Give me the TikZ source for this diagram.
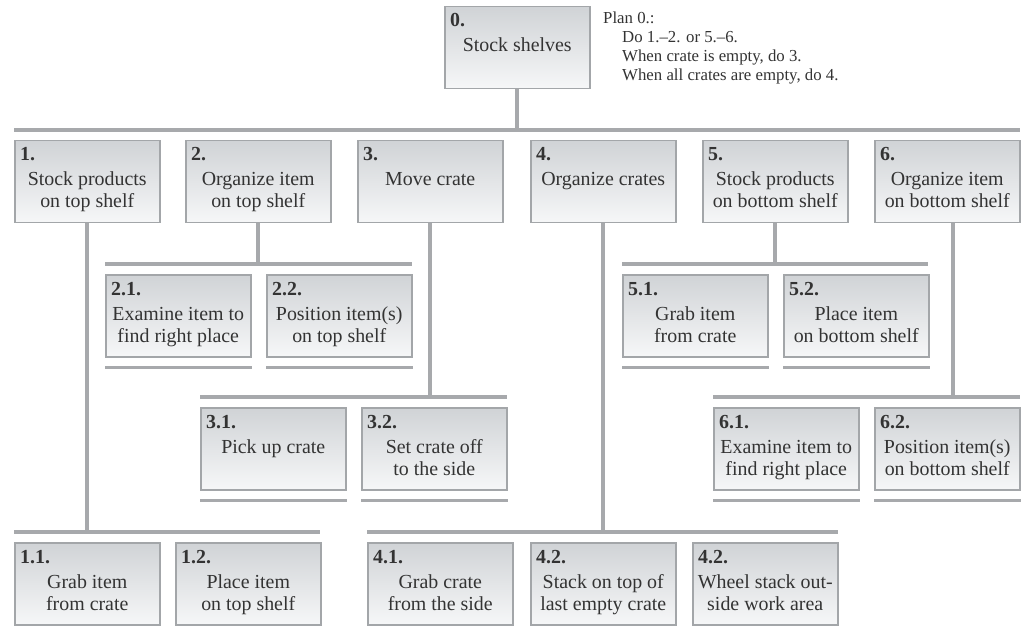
\documentclass[tikz,border=0pt]{standalone}
\usepackage{fontspec}
\setmainfont{Liberation Serif}
\definecolor{linegray}{HTML}{A7A9AC}
\definecolor{boxtop}{HTML}{D0D3D6}
\definecolor{boxbot}{HTML}{F6F7F8}
\definecolor{boxedge}{HTML}{A3A6A9}
\definecolor{txt}{HTML}{333333}
\newcommand\boxfont{\fontsize{19.9}{21}\selectfont}
\newcommand\planfont{\fontsize{16.8}{19}\selectfont}
\newcommand\taskbox[6]{%
  \node[taskframe, anchor=north west] (#1) at (#2,#3) {};
  \node[tasknum] (#1n) at ([xshift=6pt,yshift=-21pt]#1.north west) {#4};
  \node[tasktext] (#1a) at ([yshift=-46pt]#1.north) {#5};
  \node[tasktext] (#1b) at ([yshift=-68pt]#1.north) {#6};
}
\begin{document}
\begin{tikzpicture}[x=1pt,y=-1pt,
  taskframe/.style={draw=boxedge, line width=1.5pt, top color=boxtop, bottom color=boxbot,
    minimum width=145pt, minimum height=82pt, inner sep=0pt},
  tasknum/.style={anchor=base west, inner sep=0pt, font=\boxfont\bfseries, text=txt},
  tasktext/.style={anchor=base, inner sep=0pt, font=\boxfont, text=txt},
  conn/.style={draw=linegray, line width=4pt},
  underl/.style={draw=linegray, line width=2.5pt},
  plantext/.style={anchor=base west, inner sep=0pt, font=\planfont, text=txt}]
\useasboundingbox (0,0) rectangle (1023,631);

% boxes
\taskbox{b0}{444}{6}{0.}{Stock shelves}{}
\taskbox{b1}{14}{140}{1.}{Stock products}{on top shelf}
\taskbox{b2}{185}{140}{2.}{Organize item}{on top shelf}
\taskbox{b3}{357}{140}{3.}{Move crate}{}
\taskbox{b4}{530}{140}{4.}{Organize crates}{}
\taskbox{b5}{702}{140}{5.}{Stock products}{on bottom shelf}
\taskbox{b6}{874}{140}{6.}{Organize item}{on bottom shelf}

\taskbox{b21}{105}{274}{2.1.}{Examine item to}{find right place}
\taskbox{b22}{266}{274}{2.2.}{Position item(s)}{on top shelf}
\taskbox{b51}{622}{274}{5.1.}{Grab item}{from crate}
\taskbox{b52}{783}{274}{5.2.}{Place item}{on bottom shelf}

\taskbox{b31}{200}{407}{3.1.}{Pick up crate}{}
\taskbox{b32}{361}{407}{3.2.}{Set crate off}{to the side}
\taskbox{b61}{713}{407}{6.1.}{Examine item to}{find right place}
\taskbox{b62}{874}{407}{6.2.}{Position item(s)}{on bottom shelf}

\taskbox{b11}{14}{542}{1.1.}{Grab item}{from crate}
\taskbox{b12}{175}{542}{1.2.}{Place item}{on top shelf}
\taskbox{b41}{367}{542}{4.1.}{Grab crate}{from the side}
\taskbox{b42}{530}{542}{4.2.}{Stack on top of}{last empty crate}
\taskbox{b43}{692}{542}{4.2.}{Wheel stack out-}{side work area}

% plan
\node[plantext] (plan0) at (603,24) {Plan 0.:};
\node[plantext] (plan1) at (622,43) {Do 1.–2. or 5.–6.};
\node[plantext] (plan2) at (622,62) {When crate is empty, do 3.};
\node[plantext] (plan3) at (622,81) {When all crates are empty, do 4.};

% bars
\coordinate (barTL) at (14,130);   \coordinate (barTR) at (1020,130);
\coordinate (bar2L) at (105,264);  \coordinate (bar2R) at (412,264);
\coordinate (bar5L) at (622,264);  \coordinate (bar5R) at (928,264);
\coordinate (bar3L) at (200,397);  \coordinate (bar3R) at (507,397);
\coordinate (bar6L) at (713,397);  \coordinate (bar6R) at (1020,397);
\coordinate (bar1L) at (14,532);   \coordinate (bar1R) at (320,532);
\coordinate (bar4L) at (367,532);  \coordinate (bar4R) at (838,532);

\draw[conn] (barTL) -- (barTR);
\draw[conn] (bar2L) -- (bar2R);
\draw[conn] (bar5L) -- (bar5R);
\draw[conn] (bar3L) -- (bar3R);
\draw[conn] (bar6L) -- (bar6R);
\draw[conn] (bar1L) -- (bar1R);
\draw[conn] (bar4L) -- (bar4R);

% verticals
\draw[conn] (b0.south) -- (b0.south |- barTL);
\draw[conn] (b1.south) -- (b1.south |- bar1L);
\draw[conn] (b2.south) -- (b2.south |- bar2L);
\draw[conn] (b3.south) -- (b3.south |- bar3L);
\draw[conn] (b4.south) -- (b4.south |- bar4L);
\draw[conn] (b5.south) -- (b5.south |- bar5L);
\draw[conn] ([xshift=6pt]b6.south) -- ([xshift=6pt]b6.south |- bar6L);

% underlines
\foreach \b in {b21,b22,b51,b52,b31,b32,b61,b62}{
  \draw[underl] ([yshift=-10pt]\b.south west) -- ([yshift=-10pt]\b.south east);
}
\end{tikzpicture}
\end{document}
